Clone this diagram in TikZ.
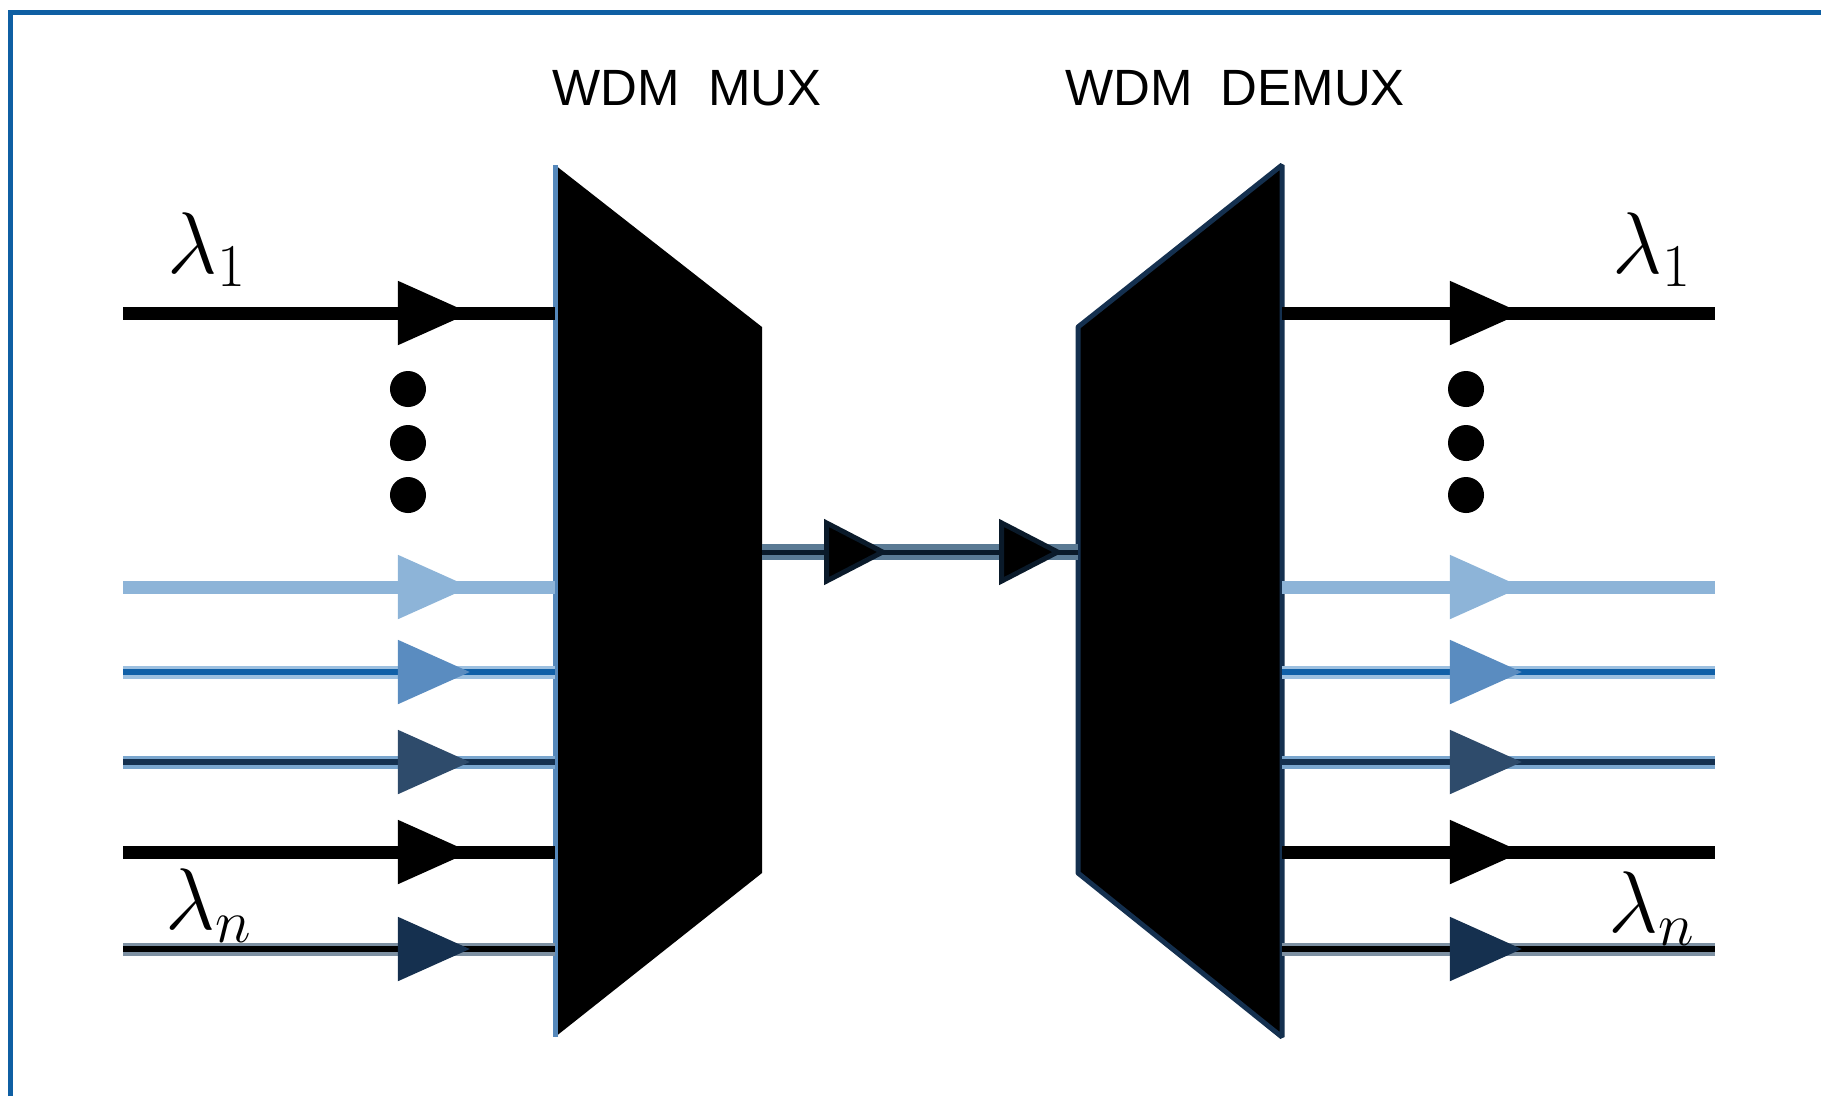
\documentclass[tikz,border=0pt]{standalone}
\usepackage{fontspec}
\newfontfamily\titlefont{Liberation Sans}
\usetikzlibrary{arrows.meta,decorations.markings}
\definecolor{frameblue}{HTML}{0F5FA3}
\definecolor{edgeblue}{HTML}{5588BB}
\definecolor{skyln}{HTML}{8DB4D8}
\definecolor{bluehalo}{HTML}{9DC0E0}
\definecolor{blueln}{HTML}{1060A8}
\definecolor{bluehd}{HTML}{5A8CC0}
\definecolor{slatehalo}{HTML}{7AA6CE}
\definecolor{slateln}{HTML}{14304F}
\definecolor{slatehd}{HTML}{2E4B6B}
\definecolor{navyhalo}{HTML}{7D90A2}
\definecolor{navyhd}{HTML}{15304F}
\definecolor{trunk}{HTML}{5A7A94}
\definecolor{trunkcore}{HTML}{0A1A2A}
\tikzset{
  chan/.style n args={4}{preaction={draw=#1, line width=1.3mm}, draw=#2, line width=0.55mm,
    decoration={markings, mark=at position #4 with {\arrow{Triangle[length=7.2mm,width=6.3mm,fill=#3,color=#3]}}},
    postaction={decorate}},
  trk/.style={preaction={draw=trunk, line width=1.6mm}, draw=trunkcore, line width=0.5mm,
    decoration={markings,
      mark=at position 0.399 with {\arrow{Triangle[length=6.4mm,width=6.5mm,fill=black]}},
      mark=at position 0.953 with {\arrow{Triangle[length=6.4mm,width=6.5mm,fill=black]}}},
    postaction={decorate}},
  dot/.style={circle, fill=black, inner sep=0pt, minimum size=3.6mm},
  lam/.style={inner sep=0pt, font=\fontsize{25}{25}\selectfont},
  ttl/.style={inner sep=0pt, font=\titlefont\fontsize{14.5}{14.5}\selectfont},
  frame/.style={draw=frameblue, line width=0.5mm}
}
\begin{document}
\begin{tikzpicture}[x=0.01cm, y=-0.01cm]
\useasboundingbox (0,0) rectangle (1821,1096);
\draw[frame] (10.5,1096) -- (10.5,12.5) -- (1821,12.5);
% mux / demux blocks
\fill (555,165) coordinate (muxtl) -- (762,327) coordinate (muxtr) -- (762,873) coordinate (muxbr) -- (555,1037) coordinate (muxbl) -- cycle;
\draw[draw=edgeblue, line width=0.5mm] (muxtl) -- (muxbl);
\filldraw[draw=slateln, line width=0.5mm, line join=bevel] (1078,327) coordinate (dmxtl) -- (1282,165) coordinate (dmxtr) -- (1282,1037) coordinate (dmxbr) -- (1078,873) coordinate (dmxbl) -- cycle;
\node[ttl] (muxlbl) at (687,88) {WDM\ \ MUX};
\node[ttl] (dmxlbl) at (1235,88) {WDM\ \ DEMUX};
% wavelength channels
\foreach \yy/\hc/\lc/\ac [count=\i] in {313/black/black/black, 587/skyln/skyln/skyln, 672/bluehalo/blueln/bluehd, 762/slatehalo/slateln/slatehd, 852/black/black/black, 949/navyhalo/black/navyhd} {
  \coordinate (in\i) at (123,\yy);
  \coordinate (mi\i) at (555,\yy);
  \coordinate (do\i) at (1282,\yy);
  \coordinate (out\i) at (1715,\yy);
  \draw[chan={\hc}{\lc}{\ac}{0.803}] (in\i) -- (mi\i);
  \draw[chan={\hc}{\lc}{\ac}{0.554}] (do\i) -- (out\i);
}
% fibre between them
\coordinate (trkin) at (762,552);
\coordinate (trkout) at (1078,552);
\draw[trk] (trkin) -- (trkout);
\foreach \yy [count=\i] in {389,443,495} {
  \node[dot] (ldot\i) at (408,\yy) {};
  \node[dot] (rdot\i) at (1466,\yy) {};
}
\node[lam] (lamin1) at (207,250) {$\lambda_1$};
\node[lam] (laminn) at (209,906) {$\lambda_n$};
\node[lam] (lamout1) at (1652,250) {$\lambda_1$};
\node[lam] (lamoutn) at (1652,909) {$\lambda_n$};
\end{tikzpicture}
\end{document}
